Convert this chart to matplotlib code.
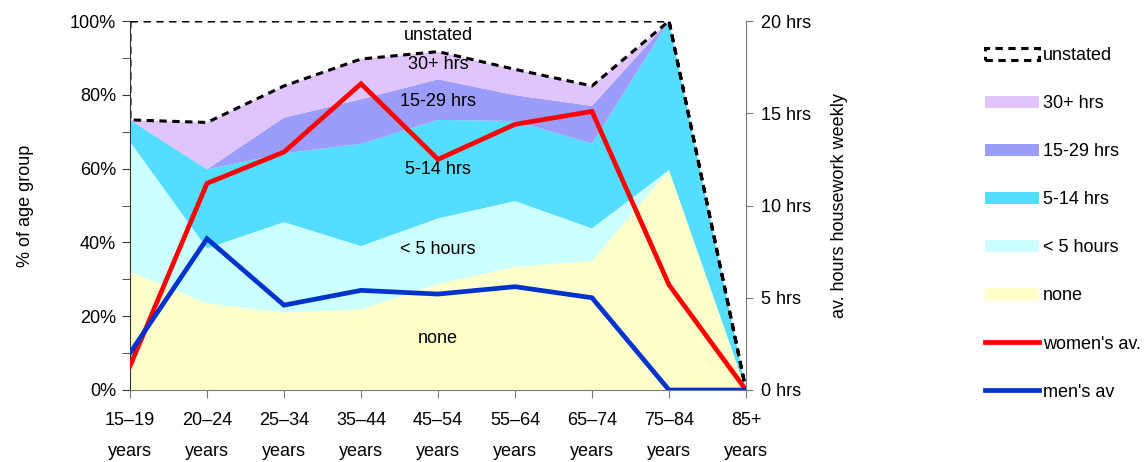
import matplotlib
matplotlib.use("Agg")
import matplotlib.pyplot as plt
from matplotlib.patches import Patch
from matplotlib.lines import Line2D
from matplotlib.ticker import MultipleLocator, FuncFormatter

plt.rcParams['font.family'] = ['Liberation Sans', 'DejaVu Sans']

# age groups
ages = ["15–19\nyears", "20–24\nyears", "25–34\nyears", "35–44\nyears", "45–54\nyears",
        "55–64\nyears", "65–74\nyears", "75–84\nyears", "85+\nyears"]

# % of age group doing weekly housework
none_pct = [32.1, 23.5, 21.0, 21.9, 28.7, 33.4, 35.0, 59.6, 0]
under5_pct = [35.2, 14.9, 24.5, 17.1, 17.8, 17.8, 8.8, 0, 0]
h5_14_pct = [5.9, 21.4, 18.6, 27.7, 26.7, 21.7, 23.0, 40.4, 0]
h15_29_pct = [0, 0, 9.7, 12.1, 11.0, 7.0, 10.2, 0, 0]
h30_pct = [0, 12.7, 8.6, 10.9, 7.5, 7.0, 5.4, 0, 0]
unstated_pct = [26.8, 27.5, 17.6, 10.3, 8.3, 13.1, 17.6, 0, 0]

# average weekly hours
women_hrs = [1.3, 11.2, 12.9, 16.6, 12.5, 14.4, 15.1, 5.7, 0]
men_hrs = [2.0, 8.2, 4.6, 5.4, 5.2, 5.6, 5.0, 0, 0]

series_names = ["none", "< 5 hours", "5-14 hrs", "15-29 hrs", "30+ hrs", "unstated"]
colors = ["#FFFFCC", "#CCFFFF", "#55DDFF", "#9C9CFC", "#E0C4FC", "white"]
dash = (0, (2.4, 1.8))

x = list(range(len(ages)))

fig = plt.figure(figsize=(11.48, 4.62), dpi=100)
ax = fig.add_axes([130 / 1148, 1 - 390 / 462, 616 / 1148, 369 / 462])

polys = ax.stackplot(x, none_pct, under5_pct, h5_14_pct, h15_29_pct, h30_pct, unstated_pct,
                     colors=colors, linewidth=0)
polys[-1].set_edgecolor("black")
polys[-1].set_linestyle(dash)
polys[-1].set_linewidth(2.2)

# labels inside the areas
label_y = [14.0, 38.0, 59.7, 78.3, 88.1, 96.2]
for name, yy in zip(series_names, label_y):
    ax.text(4, yy, name, ha="center", va="center", fontsize=13)

ax.set_xlim(0, 8)
ax.set_ylim(0, 100)
ax.set_xticks(x)
ax.set_xticklabels(ages, fontsize=13, linespacing=2.05)
ax.yaxis.set_major_locator(MultipleLocator(20))
ax.yaxis.set_minor_locator(MultipleLocator(10))
ax.yaxis.set_major_formatter(FuncFormatter(lambda v, p: f"{v:.0f}%"))
ax.tick_params(axis="y", labelsize=13, length=6, color="#333333", pad=4)
ax.tick_params(axis="y", which="minor", length=6, color="#333333")
ax.tick_params(axis="x", length=6, color="#777777", pad=10)
ax.set_ylabel("% of age group", fontsize=13, labelpad=26)
for s in ["top", "right"]:
    ax.spines[s].set_visible(False)
ax.spines["left"].set_color("#333333")
ax.spines["bottom"].set_color("#777777")

ax2 = ax.twinx()
ax2.plot(x, women_hrs, color="#FF0000", lw=3.4, solid_joinstyle="miter")
ax2.plot(x, men_hrs, color="#0033CC", lw=3.4, solid_joinstyle="miter")
ax2.set_ylim(0, 20)
ax2.set_xlim(0, 8)
ax2.yaxis.set_major_locator(MultipleLocator(5))
ax2.yaxis.set_major_formatter(FuncFormatter(lambda v, p: f"{v:.0f} hrs"))
ax2.tick_params(axis="y", labelsize=13, length=5, color="#777777", pad=6)
ax2.set_ylabel("av. hours housework weekly", fontsize=13, labelpad=14)
for s in ["top", "left", "bottom"]:
    ax2.spines[s].set_visible(False)
ax2.spines["right"].set_color("#777777")

handles = [Patch(facecolor="white", edgecolor="black", linestyle=dash, linewidth=2.2)]
for c in colors[4::-1]:
    handles.append(Patch(facecolor=c, edgecolor="none"))
handles.append(Line2D([], [], color="#FF0000", lw=3.4))
handles.append(Line2D([], [], color="#0033CC", lw=3.4))
labels = ["unstated", "30+ hrs", "15-29 hrs", "5-14 hrs", "< 5 hours", "none",
          "women's av.", "men's av"]
fig.legend(handles, labels, loc="upper left", bbox_to_anchor=(978 / 1148, 1 - 40 / 462),
           frameon=False, fontsize=13, labelspacing=1.72, handlelength=3.0,
           handletextpad=0.2, borderaxespad=0)

fig.savefig("out.png", dpi=100)
